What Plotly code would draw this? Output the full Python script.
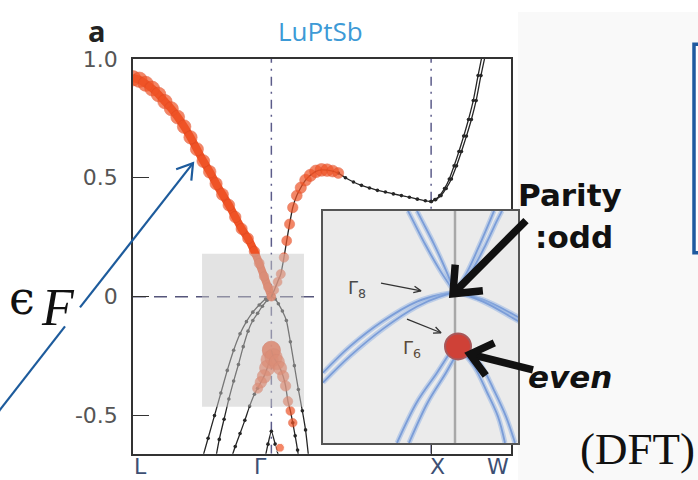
import math
import plotly.graph_objects as go

W, H = 698, 480

# ---- k-path (FCC, units of 2pi/a): L-G = sqrt(3)/2, G-X = 1, X-W = 1/2 ----
K_L, K_G, K_X, K_W = 0.0, 0.866, 1.866, 2.366
E_MIN, E_MAX = -0.66, 1.0
y_ticks = [-0.5, 0.0, 0.5, 1.0]
y_ticktext = ["-0.5", "0", "0.5", "1.0"]
path_labels = ["L", "Γ", "X", "W"]

# ---- band with strong s-character, L -> Gamma (energy in eV, weight 0..1) ----
b1_k = [0.00, 0.04, 0.08, 0.12, 0.16, 0.20, 0.24, 0.28, 0.32, 0.36, 0.40, 0.44,
        0.48, 0.52, 0.56, 0.60, 0.64, 0.68, 0.72, 0.76, 0.79, 0.82, 0.845, 0.866]
b1_e = [0.918, 0.912, 0.895, 0.875, 0.85, 0.82, 0.79, 0.755, 0.715, 0.67, 0.62, 0.57,
        0.525, 0.475, 0.43, 0.385, 0.335, 0.285, 0.245, 0.19, 0.14, 0.085, 0.04, 0.0]
b1_w = [0.8, 0.8, 0.78, 0.76, 0.74, 0.72, 0.7, 0.68, 0.66, 0.64, 0.62, 0.6,
        0.58, 0.56, 0.54, 0.52, 0.5, 0.48, 0.45, 0.42, 0.38, 0.34, 0.3, 0.28]

# ---- conduction band Gamma -> X (s-weighted part, then plain) ----
b2s_k = [0.866, 0.885, 0.905, 0.925, 0.945, 0.962, 0.98, 1.0, 1.025, 1.05, 1.08,
         1.11, 1.145, 1.18, 1.215, 1.25, 1.285]
b2s_e = [0.0, 0.028, 0.062, 0.095, 0.165, 0.235, 0.305, 0.375, 0.425, 0.458, 0.49,
         0.51, 0.527, 0.533, 0.532, 0.528, 0.52]
b2s_w = [0.28, 0.28, 0.3, 0.32, 0.35, 0.38, 0.4, 0.42, 0.45, 0.48, 0.52,
         0.55, 0.58, 0.6, 0.58, 0.52, 0.45]
b2_k = [1.285, 1.33, 1.38, 1.43, 1.48, 1.53, 1.58, 1.63, 1.68, 1.73, 1.78, 1.83, 1.866]
b2_e = [0.52, 0.50, 0.482, 0.468, 0.457, 0.447, 0.44, 0.432, 0.425, 0.418, 0.41, 0.403, 0.40]

# ---- X -> W pair ----
xw_e = [0.40, 0.408, 0.425, 0.455, 0.495, 0.55, 0.61, 0.675, 0.745, 0.825, 0.93, 1.03]
xw1_k = [1.866, 1.89, 1.92, 1.95, 1.98, 2.01, 2.04, 2.07, 2.10, 2.13, 2.16, 2.19]
xw2_k = [1.866, 1.895, 1.928, 1.96, 1.993, 2.025, 2.056, 2.087, 2.118, 2.148, 2.178, 2.21]

# ---- heavy/light hole bands at Gamma ----
hh1_k = [0.866, 0.83, 0.79, 0.75, 0.71, 0.67, 0.63, 0.59, 0.55, 0.51, 0.47, 0.43]
hh1_e = [0.0, -0.01, -0.035, -0.065, -0.105, -0.156, -0.225, -0.31, -0.405, -0.5, -0.595, -0.69]
hh2_k = [0.866, 0.84, 0.81, 0.78, 0.75, 0.72, 0.69, 0.66, 0.63, 0.60, 0.57, 0.54, 0.515]
hh2_e = [0.0, -0.015, -0.04, -0.07, -0.1, -0.145, -0.21, -0.285, -0.355, -0.43, -0.515, -0.6, -0.69]
hh3_k = [0.866, 0.89, 0.91, 0.935, 0.96, 0.985, 1.01, 1.035, 1.06, 1.08, 1.1]
hh3_e = [0.0, -0.01, -0.03, -0.06, -0.1, -0.19, -0.29, -0.39, -0.48, -0.56, -0.68]

# ---- Gamma6 band (s-like, below E_F) ----
g6l_k = [0.866, 0.855, 0.84, 0.82, 0.80, 0.78]
g6l_e = [-0.225, -0.265, -0.3, -0.335, -0.36, -0.385]
g6l_w = [1.0, 0.95, 0.8, 0.65, 0.5, 0.4]
g6l_tail_k = [0.78, 0.76, 0.73, 0.70, 0.67, 0.64, 0.61]
g6l_tail_e = [-0.385, -0.41, -0.46, -0.52, -0.575, -0.63, -0.69]
g6r_k = [0.866, 0.88, 0.9, 0.92, 0.94, 0.955, 0.97, 0.985, 1.0]
g6r_e = [-0.225, -0.255, -0.275, -0.3, -0.335, -0.375, -0.44, -0.48, -0.53]
g6r_w = [1.0, 0.95, 0.8, 0.65, 0.5, 0.42, 0.35, 0.3, 0.28]
g6r_tail_k = [1.0, 1.015, 1.03, 1.04]
g6r_tail_e = [-0.53, -0.585, -0.645, -0.69]

# ---- deeper band peaking just below the window ----
deep_k = [0.826, 0.845, 0.866, 0.89, 0.915]
deep_e = [-0.68, -0.62, -0.566, -0.62, -0.68]
deep_s_k = [0.92]
deep_s_e = [-0.635]
deep_s_w = [0.3]

# highlighted window around Gamma
win_k = [0.432, 1.07]
win_e = [-0.463, 0.18]

# ---- inset: zoom near Gamma (k relative to Gamma, energy in meV) ----
in_k_range = [-0.66, 0.315]
in_e_range = [-77, 42]
in_a_k = [-0.66, -0.525, -0.36, -0.19, -0.075, 0.0, 0.14, 0.29, 0.325]
in_a1_e = [-41, -27.5, -14.5, -4.5, -1, 0, -3.5, -11, -13]
in_a2_e = [-46, -32.5, -18.5, -7, -2, 0, -4.5, -13, -15]
in_up_e = [0, 11.5, 25, 37, 42]
in_ul1_k = [0, -0.075, -0.15, -0.21, -0.235]
in_ul2_k = [0, -0.045, -0.105, -0.165, -0.19]
in_ur1_k = [0, 0.065, 0.125, 0.175, 0.195]
in_ur2_k = [0, 0.085, 0.155, 0.21, 0.235]
in_c1_k = [-0.015, -0.09, -0.19, -0.29]
in_c1_e = [-29, -41, -56, -77]
in_c2_k = [0.015, -0.045, -0.135, -0.23]
in_c2_e = [-30, -41, -56, -77]
in_d1_k = [0.035, 0.1, 0.16, 0.215, 0.25]
in_d1_e = [-30, -38.5, -51, -63.5, -77]
in_d2_k = [0.055, 0.13, 0.195, 0.255, 0.3]
in_d2_e = [-28, -37, -50, -63.5, -77]
in_g6_k = [0.015]
in_g6_e = [-27.5]

ORANGE = "#ef5326"
BLACK = "#262626"
INSET_BLUE = "#7b9dd8"

fig = go.Figure()


def black_band(k, e):
    fig.add_trace(go.Scatter(
        x=k, y=e, mode="lines+markers", xaxis="x", yaxis="y",
        line=dict(color=BLACK, width=1.3, shape="spline", smoothing=0.6),
        marker=dict(symbol="circle", size=3.6, color=BLACK),
        hoverinfo="skip"))


def s_band(k, e, w, ribbon):
    if ribbon:
        fig.add_trace(go.Scatter(
            x=k, y=e, mode="lines", xaxis="x", yaxis="y",
            line=dict(color=ORANGE, width=ribbon, shape="spline", smoothing=0.6),
            hoverinfo="skip"))
    else:
        fig.add_trace(go.Scatter(
            x=k, y=e, mode="lines", xaxis="x", yaxis="y",
            line=dict(color=BLACK, width=1.3, shape="spline", smoothing=0.6),
            hoverinfo="skip"))
    fig.add_trace(go.Scatter(
        x=k, y=e, mode="markers", xaxis="x", yaxis="y",
        marker=dict(size=[5 + 13 * v for v in w], color=ORANGE,
                    line=dict(width=0.6, color="#dc4520")),
        hoverinfo="skip"))


# reference lines: high-symmetry points and Fermi level
for kv in (K_G, K_X):
    fig.add_trace(go.Scatter(x=[kv, kv], y=[E_MIN, E_MAX], mode="lines",
                             line=dict(color="#5c5c8a", width=1.5, dash="9px,6px,2px,6px"),
                             hoverinfo="skip", xaxis="x", yaxis="y"))
fig.add_trace(go.Scatter(x=[K_L, K_W], y=[0, 0], mode="lines",
                         line=dict(color="#55557a", width=1.5, dash="13px,8px"),
                         hoverinfo="skip", xaxis="x", yaxis="y"))

for k, e in [(hh1_k, hh1_e), (hh2_k, hh2_e), (hh3_k, hh3_e), (g6l_tail_k, g6l_tail_e),
             (g6r_tail_k, g6r_tail_e), (deep_k, deep_e), (b2_k, b2_e),
             (xw1_k, xw_e), (xw2_k, xw_e)]:
    black_band(k, e)

s_band(b1_k, b1_e, b1_w, 8)
s_band(b2s_k, b2s_e, b2s_w, 0)
s_band(g6l_k, g6l_e, g6l_w, 0)
s_band(g6r_k, g6r_e, g6r_w, 0)
fig.add_trace(go.Scatter(x=deep_s_k, y=deep_s_e, mode="markers", xaxis="x", yaxis="y",
                         marker=dict(size=[5 + 13 * v for v in deep_s_w], color=ORANGE),
                         hoverinfo="skip"))

# ---- inset ----
x0, x1 = in_k_range
y0, y1 = in_e_range
fig.add_trace(go.Scatter(x=[x0, x1, x1, x0, x0], y=[y0, y0, y1, y1, y0], mode="lines",
                         fill="toself", fillcolor="#ebebeb", line=dict(width=0),
                         xaxis="x2", yaxis="y2", hoverinfo="skip"))
fig.add_trace(go.Scatter(x=[0, 0], y=in_e_range, mode="lines",
                         line=dict(color="#a8a8a8", width=2.5),
                         xaxis="x2", yaxis="y2", hoverinfo="skip"))

inset_curves = [(in_a_k, in_a1_e), (in_a_k, in_a2_e),
                (in_ul1_k, in_up_e), (in_ul2_k, in_up_e),
                (in_ur1_k, in_up_e), (in_ur2_k, in_up_e),
                (in_c1_k, in_c1_e), (in_c2_k, in_c2_e),
                (in_d1_k, in_d1_e), (in_d2_k, in_d2_e)]
for k, e in inset_curves:
    fig.add_trace(go.Scatter(x=k, y=e, mode="lines", xaxis="x2", yaxis="y2",
                             line=dict(color="rgba(150,180,228,0.55)", width=5, shape="spline"),
                             hoverinfo="skip"))
    fig.add_trace(go.Scatter(x=k, y=e, mode="lines", xaxis="x2", yaxis="y2",
                             line=dict(color=INSET_BLUE, width=1.8, shape="spline"),
                             hoverinfo="skip"))
# Gamma6 state
fig.add_trace(go.Scatter(x=in_g6_k, y=in_g6_e, mode="markers", xaxis="x2", yaxis="y2",
                         marker=dict(size=26, color="#cf4137", line=dict(color="#a8585a", width=2)),
                         hoverinfo="skip"))


# ---- pointer arrows, drawn on a full-page pixel overlay ----
def arrow_px(tail, tip, color, width, head_len, head_deg, gap=None):
    (xt, yt), (xh, yh) = tail, tip
    ang = math.atan2(yt - yh, xt - xh)
    a = math.radians(head_deg)
    p1 = (xh + head_len * math.cos(ang + a), yh + head_len * math.sin(ang + a))
    p2 = (xh + head_len * math.cos(ang - a), yh + head_len * math.sin(ang - a))
    xs, ys = [xt], [yt]
    if gap:
        (ga, gb) = gap
        xs += [ga[0], None, gb[0]]
        ys += [ga[1], None, gb[1]]
    xs += [xh, None, p1[0], xh, p2[0]]
    ys += [yh, None, p1[1], yh, p2[1]]
    fig.add_trace(go.Scatter(x=xs, y=ys, mode="lines", xaxis="x3", yaxis="y3",
                             line=dict(color=color, width=width), hoverinfo="skip"))


# Fermi level pointer (interrupted behind the subscript)
arrow_px((-10, 421), (193, 155), "#1d5b9c", 2.2, 18, 32, gap=((65, 322.5), (80, 303)))
# inset state labels
arrow_px((381, 278), (421, 286), "#333", 1.3, 8, 25)
arrow_px((407, 315), (441, 329), "#333", 1.3, 8, 25)
# parity pointers
arrow_px((526, 214), (453, 289), "#111", 7.5, 30, 40)
arrow_px((533, 367), (470, 351), "#111", 7.5, 27, 40)

axis_common = dict(showgrid=False, zeroline=False, showline=True, mirror=True)
fig.update_layout(
    width=W, height=H, margin=dict(l=0, r=0, t=0, b=0),
    paper_bgcolor="white", plot_bgcolor="rgba(0,0,0,0)", showlegend=False,
    xaxis=dict(domain=[133 / W, 511 / W], range=[K_L, K_W], linecolor="#333", linewidth=1.5,
               tickvals=[K_X], ticks="inside", ticklen=10, tickcolor="#333",
               showticklabels=False, **axis_common),
    yaxis=dict(domain=[27 / H, 432 / H], range=[E_MIN, E_MAX], linecolor="#333", linewidth=1.5,
               tickvals=y_ticks, ticktext=y_ticktext, ticks="inside", ticklen=16,
               tickcolor="#333", ticklabelstandoff=9,
               tickfont=dict(family="DejaVu Sans", size=22, color="#555"), **axis_common),
    xaxis2=dict(domain=[323 / W, 518 / W], range=in_k_range, anchor="y2", linecolor="#555",
                linewidth=1.5, showticklabels=False, ticks="", **axis_common),
    yaxis2=dict(domain=[38 / H, 276 / H], range=in_e_range, anchor="x2", linecolor="#555",
                linewidth=1.5, showticklabels=False, ticks="", **axis_common),
    xaxis3=dict(domain=[0, 1], range=[0, W], anchor="y3", visible=False, fixedrange=True),
    yaxis3=dict(domain=[0, 1], range=[H, 0], anchor="x3", visible=False, fixedrange=True),
)

# page decorations: side panel and framed box
fig.add_shape(type="rect", xref="paper", yref="paper", x0=518 / W, x1=1, y0=0, y1=1,
              fillcolor="#f9f9f9", line=dict(width=0), layer="below")
fig.add_shape(type="rect", xref="paper", yref="paper", x0=694 / W, x1=740 / W,
              y0=1 - 247 / H, y1=1 - 33 / H, fillcolor="white",
              line=dict(color="#1f5aa0", width=3.5), layer="below")

# highlighted window
fig.add_shape(type="rect", xref="x", yref="y", x0=win_k[0], x1=win_k[1],
              y0=win_e[0], y1=win_e[1], fillcolor="rgba(200,200,200,0.5)",
              line=dict(width=0), layer="above")


def text(xp, yp, s, size, color, family, weight="normal", style="normal"):
    fig.add_annotation(x=xp / W, y=1 - yp / H, xref="paper", yref="paper", text=s,
                       showarrow=False,
                       font=dict(size=size, color=color, family=family,
                                 weight=weight, style=style),
                       xanchor="center", yanchor="middle")


# panel title and label
text(97, 19, "a", 29, "#222", "Open Sans", weight="bold")
text(320, 19, "LuPtSb", 26, "#3d9ad6", "Open Sans")

# k-path labels
for lab, xp in zip(path_labels, [140, 260, 437, 498]):
    text(xp, 466, lab, 22, "#3d4f73", "DejaVu Sans")

# inset labels
text(357, 284, "Γ<sub>8</sub>", 18, "#4a4a4a", "DejaVu Sans")
text(412, 346, "Γ<sub>6</sub>", 18, "#5a4a3a", "DejaVu Sans")

# Fermi energy symbol
text(22, 293, "ϵ", 46, "#111", "DejaVu Serif")
text(58, 303, "F", 52, "#111", "Liberation Serif", style="italic")

# parity annotations
text(570, 188, "Parity", 31, "#111", "DejaVu Sans", weight="bold")
text(574, 231, ":odd", 31, "#111", "DejaVu Sans", weight="bold")
text(570, 374, "even", 31, "#111", "DejaVu Sans", weight="bold", style="italic")
text(637, 448, "(DFT)", 45, "#111", "Liberation Serif")

fig.write_html("out.html")
